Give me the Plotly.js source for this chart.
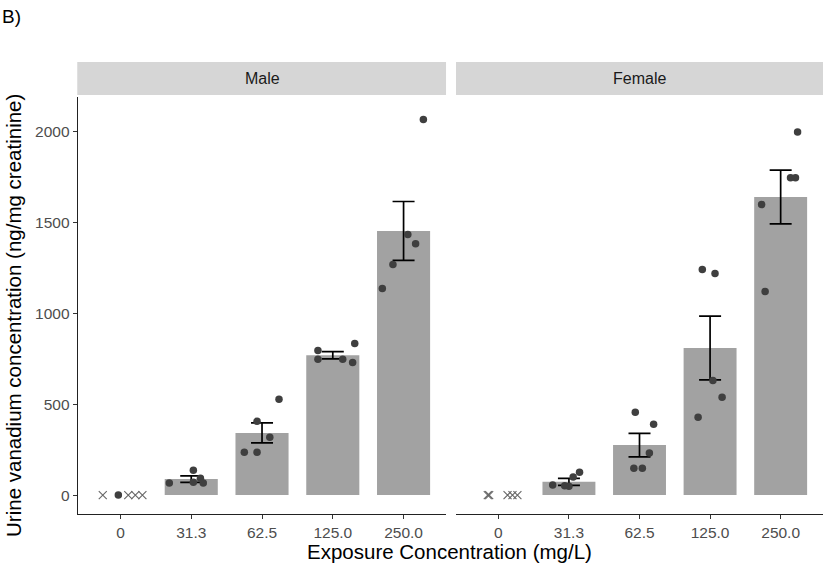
<!DOCTYPE html>
<html>
<head>
<meta charset="utf-8">
<script src="https://cdn.plot.ly/plotly-3.0.1.min.js"></script>
<style>html,body{margin:0;padding:0;background:#fff;}#chart{width:827px;height:572px;}</style>
</head>
<body>
<div id="chart"></div>
<script>
// ---- data ----
const concLabels = ['0', '31.3', '62.5', '125.0', '250.0'];

const maleMean = [0, 88, 342, 769, 1453];
const maleSE   = [0, 18, 55, 20, 162];
const femaleMean = [0, 73, 275, 809, 1640];
const femaleSE   = [0, 19, 65, 175, 148];

// individual animals: group index, horizontal jitter, value
const maleDotGroup  = [0, 1, 1, 1, 1, 1, 2, 2, 2, 2, 2, 3, 3, 3, 3, 3, 4, 4, 4, 4, 4];
const maleDotJitter = [-0.03, -0.31, 0.03, 0.13, 0.17, 0.03, -0.25, -0.07, 0.11, -0.07, 0.24, -0.21, -0.21, 0.14, 0.28, 0.31, 0.28, 0.06, 0.17, -0.15, -0.30];
const maleDotValue  = [0, 66, 137, 93, 66, 71, 236, 236, 318, 406, 527, 796, 747, 747, 730, 834, 2066, 1433, 1383, 1268, 1136];

const femaleDotGroup  = [1, 1, 1, 1, 1, 2, 2, 2, 2, 2, 3, 3, 3, 3, 3, 4, 4, 4, 4, 4];
const femaleDotJitter = [-0.23, 0.00, 0.06, 0.15, -0.06, -0.06, 0.20, 0.14, -0.08, 0.04, -0.11, 0.07, 0.04, 0.17, -0.17, 0.24, 0.14, 0.21, -0.27, -0.22];
const femaleDotValue  = [55, 49, 99, 126, 52, 456, 390, 231, 148, 148, 1241, 1219, 631, 538, 428, 1998, 1746, 1746, 1598, 1120];

// below detection limit (drawn as crosses)
const maleLodGroup  = [0, 0, 0, 0];
const maleLodJitter = [-0.25, 0.11, 0.21, 0.31];
const maleLodValue  = [0, 0, 0, 0];
const femaleLodGroup  = [0, 0, 0, 0, 0];
const femaleLodJitter = [-0.15, -0.13, 0.13, 0.20, 0.27];
const femaleLodValue  = [0, 0, 0, 0, 0];

const panels = ['Male', 'Female'];

// ---- build traces ----
const idx = concLabels.map((_, i) => i);
const barColor = '#a2a2a2';
const dotColor = '#3f3f3f';

function panelTraces(mean, se, dg, dj, dv, lg, lj, lv, xa, ya) {
  const withErr = idx.filter(i => se[i] > 0);
  return [
    {type: 'bar', x: idx, y: mean, width: 0.75, marker: {color: barColor, line: {width: 0}},
     xaxis: xa, yaxis: ya, hoverinfo: 'skip'},
    {type: 'scatter', mode: 'markers', x: withErr, y: withErr.map(i => mean[i]),
     marker: {size: 1, opacity: 0},
     error_y: {type: 'data', array: withErr.map(i => se[i]), color: '#000', thickness: 1.7, width: 11},
     xaxis: xa, yaxis: ya, hoverinfo: 'skip'},
    {type: 'scatter', mode: 'markers', x: lg.map((g, k) => g + lj[k]), y: lv,
     marker: {symbol: 'x-thin-open', size: 8, color: '#666', line: {width: 1.1, color: '#666'}},
     xaxis: xa, yaxis: ya, hoverinfo: 'skip'},
    {type: 'scatter', mode: 'markers', x: dg.map((g, k) => g + dj[k]), y: dv,
     marker: {symbol: 'circle', size: 7.5, color: dotColor},
     xaxis: xa, yaxis: ya, hoverinfo: 'skip'}
  ];
}

const data = [].concat(
  panelTraces(maleMean, maleSE, maleDotGroup, maleDotJitter, maleDotValue, maleLodGroup, maleLodJitter, maleLodValue, 'x', 'y'),
  panelTraces(femaleMean, femaleSE, femaleDotGroup, femaleDotJitter, femaleDotValue, femaleLodGroup, femaleLodJitter, femaleLodValue, 'x2', 'y2')
);

const font = 'Liberation Sans, Arial, sans-serif';
const tickFont = {family: font, size: 15.5, color: '#4d4d4d'};
const yRange = [-104, 2190];

const xBase = {
  range: [-0.6, 4.6], tickvals: idx, ticktext: concLabels, showgrid: false, zeroline: false,
  showline: true, linecolor: '#222', linewidth: 1.3, ticks: 'outside', ticklen: 4, tickcolor: '#333',
  tickwidth: 1, tickfont: tickFont, fixedrange: true
};

const layout = {
  width: 827, height: 572,
  margin: {l: 78, r: 4, t: 97, b: 58},
  paper_bgcolor: '#fff', plot_bgcolor: '#fff',
  showlegend: false,
  barmode: 'overlay',
  xaxis: Object.assign({}, xBase, {domain: [0, 0.494], anchor: 'y'}),
  xaxis2: Object.assign({}, xBase, {domain: [0.5074, 1], anchor: 'y2'}),
  yaxis: {range: yRange, tickvals: [0, 500, 1000, 1500, 2000], showgrid: false, zeroline: false,
          showline: true, linecolor: '#222', linewidth: 1.3, ticks: 'outside', ticklen: 4,
          tickcolor: '#333', tickfont: tickFont, anchor: 'x'},
  yaxis2: {range: yRange, showgrid: false, zeroline: false, showline: false, showticklabels: false,
           ticks: '', anchor: 'x2'},
  shapes: [
    {type: 'rect', xref: 'paper', yref: 'paper', x0: -0.001, x1: 0.494, y0: 1.005, y1: 1.084,
     fillcolor: '#d6d6d6', line: {width: 0}},
    {type: 'rect', xref: 'paper', yref: 'paper', x0: 0.5074, x1: 1.0, y0: 1.005, y1: 1.084,
     fillcolor: '#d6d6d6', line: {width: 0}}
  ],
  annotations: [
    {text: panels[0], xref: 'paper', yref: 'paper', x: 0.247, y: 1.0445, showarrow: false,
     xanchor: 'center', yanchor: 'middle', font: {family: font, size: 16, color: '#1a1a1a'}},
    {text: panels[1], xref: 'paper', yref: 'paper', x: 0.7537, y: 1.0445, showarrow: false,
     xanchor: 'center', yanchor: 'middle', font: {family: font, size: 16, color: '#1a1a1a'}},
    {text: 'Exposure Concentration (mg/L)', xref: 'paper', yref: 'paper', x: 0.4993, y: -0.091,
     showarrow: false, xanchor: 'center', yanchor: 'middle', font: {family: font, size: 20.5, color: '#000'}},
    {text: 'Urine vanadium concentration (ng/mg creatinine)', xref: 'paper', yref: 'paper',
     x: -0.0859, y: 0.475, textangle: -90, showarrow: false, xanchor: 'center', yanchor: 'middle',
     font: {family: font, size: 20.5, color: '#000'}},
    {text: 'B)', xref: 'paper', yref: 'paper', x: -0.1047, y: 1.1925, xanchor: 'left', yanchor: 'middle',
     showarrow: false, font: {family: font, size: 19, color: '#000'}}
  ]
};

Plotly.newPlot('chart', data, layout, {displayModeBar: false, staticPlot: true});
</script>
</body>
</html>
